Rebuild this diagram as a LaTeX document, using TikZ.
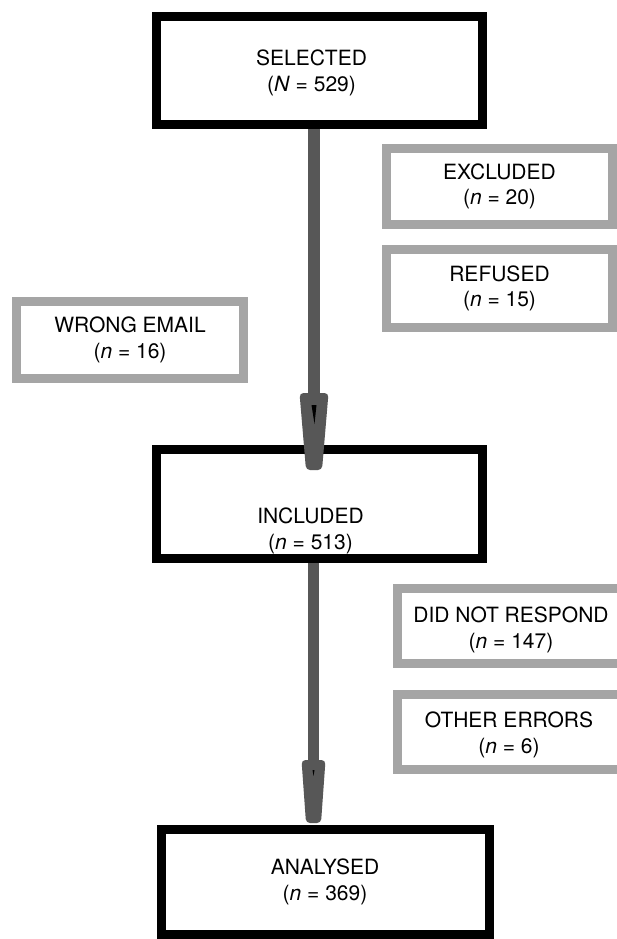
\documentclass[tikz,border=0pt]{standalone}
\usepackage{fontspec}
\setmainfont{TeX Gyre Heros}
\usetikzlibrary{calc}
\definecolor{boxgray}{HTML}{A5A5A5}
\definecolor{arrowgray}{HTML}{575757}
\begin{document}
\begin{tikzpicture}[x=1pt,y=-1pt,
  txt/.style={font=\fontsize{21}{25.5}\selectfont, align=center, inner sep=0pt},
  mainbox/.style={txt, draw=black, line width=9pt, fill=white, rectangle},
  sidebox/.style={txt, draw=boxgray, line width=9pt, fill=white, rectangle},
  shaft/.style={draw=arrowgray, line width=11.5pt},
  headfill/.style={fill=arrowgray, rounded corners=4pt}]
\useasboundingbox[fill=white] (0,0) rectangle (616,939);

% main boxes
\node[mainbox, minimum width=326pt, minimum height=108pt] (sel) at (319.5,70.5) {};
\node[txt] (selt) at ($(sel.center)+(-8,2.5)$) {SELECTED\\(\textit{N} = 529)};
\node[mainbox, minimum width=326pt, minimum height=109pt] (inc) at (319.5,504) {};
\node[txt] (inct) at ($(inc.center)+(-9,27)$) {INCLUDED\\(\textit{n} = 513)};
\node[mainbox, minimum width=328pt, minimum height=105pt] (ana) at (325,882) {ANALYSED\\(\textit{n} = 369)};

% side boxes
\node[sidebox, minimum width=226pt, minimum height=76pt] (exc) at (499.5,186.5) {EXCLUDED\\(\textit{n} = 20)};
\node[sidebox, minimum width=226pt, minimum height=78pt] (ref) at (499.5,288.5) {REFUSED\\(\textit{n} = 15)};
\node[sidebox, minimum width=227pt, minimum height=77pt] (wro) at (130,340) {WRONG EMAIL\\(\textit{n} = 16)};
\node[sidebox, minimum width=227pt, minimum height=75pt] (dnr) at (511,626) {};
\node[txt] (dnrt) at ($(dnr.center)+(0,4)$) {DID NOT RESPOND\\(\textit{n} = 147)};
\node[sidebox, minimum width=227pt, minimum height=75pt] (oth) at (511,732) {};
\node[txt] (otht) at ($(oth.center)+(-2,3)$) {OTHER ERRORS\\(\textit{n} = 6)};

% arrow 1: selected -> included
\coordinate (h1) at (314,393);
\draw[shaft] (sel.south -| h1) -- (h1);
\fill[headfill] ($(h1)+(-14.5,0)$) -- ($(h1)+(14.5,0)$) -- ($(h1)+(8,77)$) -- ($(h1)+(-8,77)$) -- cycle;
\fill[black] ($(h1)+(-2.5,12)$) -- ($(h1)+(2.5,12)$) -- ($(h1)+(0.5,31)$) -- cycle;

% arrow 2: included -> analysed
\coordinate (h2) at (313.5,760);
\draw[shaft] (inc.south -| h2) -- (h2);
\fill[headfill] ($(h2)+(-12,0)$) -- ($(h2)+(12,0)$) -- ($(h2)+(7.5,63)$) -- ($(h2)+(-7.5,63)$) -- cycle;
\fill[black] ($(h2)+(-1,10)$) -- ($(h2)+(1,10)$) -- ($(h2)+(0,16)$) -- cycle;
\end{tikzpicture}
\end{document}
